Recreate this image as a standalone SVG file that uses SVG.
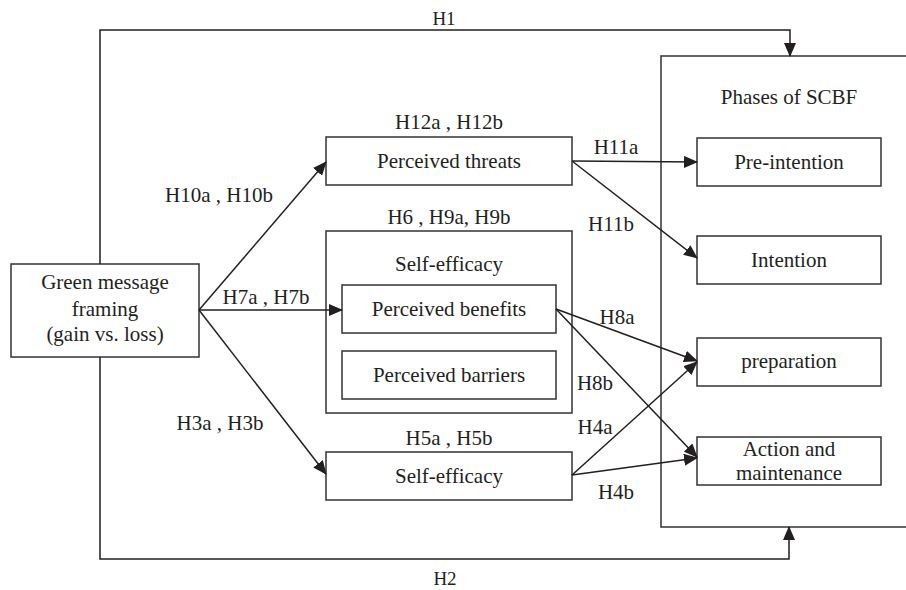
<svg xmlns="http://www.w3.org/2000/svg" width="906" height="590" viewBox="0 0 906 590">
<defs>
<marker id="ah" markerWidth="14" markerHeight="12" refX="13" refY="6" orient="auto" markerUnits="userSpaceOnUse">
<path d="M0,0 L14,6 L0,12 Z" fill="#231f20"/>
</marker>
</defs>
<style>
.box{fill:#fff;stroke:#333;stroke-width:1.5}
.ln{fill:none;stroke:#231f20;stroke-width:1.5}
.t{font-family:"Liberation Serif","Times New Roman",serif;font-size:21px;fill:#231f20;text-anchor:middle}
.h{font-family:"Liberation Serif","Times New Roman",serif;font-size:19px;fill:#231f20;text-anchor:middle}
</style>
<rect width="906" height="590" fill="#fff"/>
<g id="phases">
<rect class="box" x="661" y="56" width="260" height="471"/>
<text class="h" x="789" y="104" style="font-size:21px">Phases of SCBF</text>
</g>
<g id="preintention"><rect class="box" x="697" y="138" width="184" height="48"/><text class="t" x="789" y="169">Pre-intention</text></g>
<g id="intention"><rect class="box" x="697" y="236" width="184" height="48"/><text class="t" x="789" y="267">Intention</text></g>
<g id="preparation"><rect class="box" x="697" y="338" width="184" height="48"/><text class="t" x="789" y="368">preparation</text></g>
<g id="action"><rect class="box" x="697" y="437" width="184" height="48"/><text class="t" x="789" y="456">Action and</text><text class="t" x="789" y="480">maintenance</text></g>
<g id="green"><rect class="box" x="11" y="264" width="188" height="93"/><text class="t" x="105" y="289">Green message</text><text class="t" x="105" y="316">framing</text><text class="t" x="105" y="341">(gain vs. loss)</text></g>
<g id="threats"><rect class="box" x="326" y="137" width="246" height="48"/><text class="t" x="449" y="168">Perceived threats</text></g>
<g id="selfefficacy-group"><rect class="box" x="326" y="231" width="246" height="182"/><text class="t" x="449" y="271">Self-efficacy</text></g>
<g id="benefits"><rect class="box" x="342" y="285" width="214" height="48"/><text class="t" x="449" y="316">Perceived benefits</text></g>
<g id="barriers"><rect class="box" x="342" y="351" width="214" height="48"/><text class="t" x="449" y="382">Perceived barriers</text></g>
<g id="selfefficacy"><rect class="box" x="326" y="452" width="246" height="48"/><text class="t" x="449" y="483">Self-efficacy</text></g>
<g id="connectors">
<path class="ln" d="M100,264 V30 H790 V56" marker-end="url(#ah)"/>
<path class="ln" d="M100,357 V559 H789 V527" marker-end="url(#ah)"/>
<path class="ln" d="M199,310 L326,162" marker-end="url(#ah)"/>
<path class="ln" d="M199,310 L342,310" marker-end="url(#ah)"/>
<path class="ln" d="M199,310 L326,474" marker-end="url(#ah)"/>
<path class="ln" d="M572,161 L697,162" marker-end="url(#ah)"/>
<path class="ln" d="M572,161 L697,258" marker-end="url(#ah)"/>
<path class="ln" d="M556,309 L697,361" marker-end="url(#ah)"/>
<path class="ln" d="M556,309 L697,457" marker-end="url(#ah)"/>
<path class="ln" d="M572,475 L697,362" marker-end="url(#ah)"/>
<path class="ln" d="M572,475 L697,458" marker-end="url(#ah)"/>
</g>
<g id="labels">
<text class="h" x="444" y="25">H1</text>
<text class="h" x="445" y="585">H2</text>
<text class="t" x="219" y="202">H10a , H10b</text>
<text class="t" x="266" y="304">H7a , H7b</text>
<text class="t" x="220" y="430">H3a , H3b</text>
<text class="t" x="449" y="129">H12a , H12b</text>
<text class="t" x="449" y="224">H6 , H9a, H9b</text>
<text class="t" x="449" y="445">H5a , H5b</text>
<text class="t" x="616" y="154">H11a</text>
<text class="t" x="611" y="231">H11b</text>
<text class="t" x="617" y="324">H8a</text>
<text class="t" x="595" y="390">H8b</text>
<text class="t" x="595" y="434">H4a</text>
<text class="t" x="616" y="499">H4b</text>
</g>
</svg>
